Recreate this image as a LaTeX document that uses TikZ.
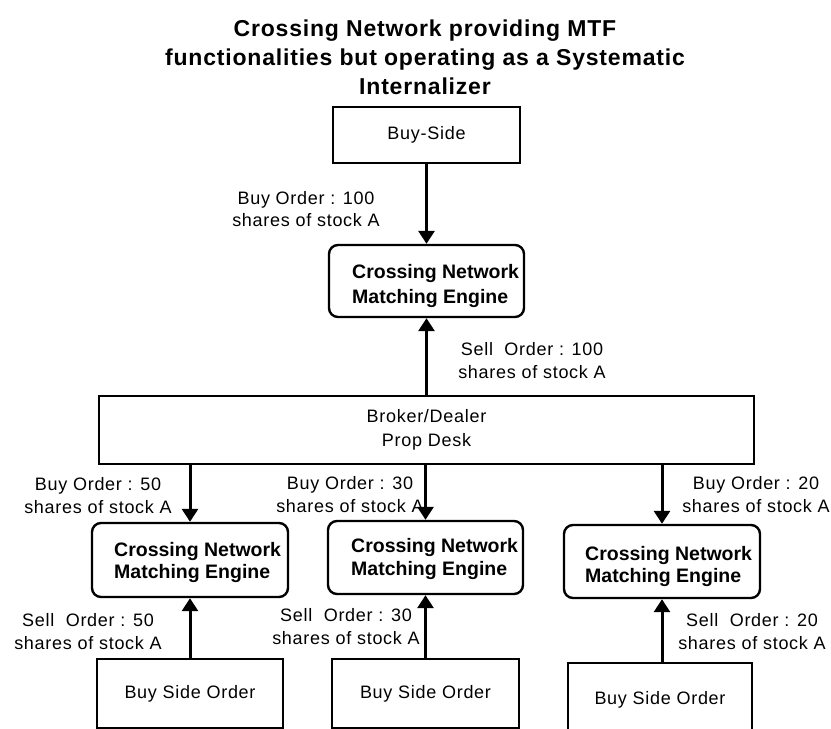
\documentclass[tikz,border=0pt]{standalone}
\usepackage{fontspec}
\setmainfont{Liberation Sans}
\newfontfamily\lblfont[LetterSpace=4.0]{Liberation Sans}
\newfontfamily\ttlfont[LetterSpace=3.5]{Liberation Sans}
\usetikzlibrary{arrows.meta}
\begin{document}
\begin{tikzpicture}[x=1pt,y=-1pt,
  box/.style={draw=black, line width=2.4pt, inner sep=0pt, align=center,
    font=\lblfont\fontsize{18}{23.4}\selectfont},
  cnbox/.style={draw=black, line width=2.4pt, rounded corners=9pt, inner sep=0pt},
  cntext/.style={anchor=north west, inner sep=0pt, align=left,
    font=\bfseries\fontsize{19.5}{22.8}\selectfont},
  lbl/.style={anchor=north, inner sep=0pt, align=center,
    font=\lblfont\fontsize{18}{22.8}\selectfont},
  arr/.style={line width=3pt, -{Triangle[width=16pt,length=13pt]}}]
\useasboundingbox (0,0) rectangle (831,729);
% title
\node[anchor=north, inner sep=0pt, align=center,
  font=\ttlfont\bfseries\fontsize{23}{29}\selectfont] (title) at (425,19.7)
  {Crossing Network providing MTF\\functionalities but operating as a Systematic\\Internalizer};
% boxes
\node[box, minimum width=187pt, minimum height=56pt] (buyside) at (426.5,135) {Buy-Side};
\node[cnbox, minimum width=195pt, minimum height=72pt] (cn0) at (426.5,281) {};
\node[cntext, font=\bfseries\fontsize{19.5}{25}\selectfont] (cn0t) at (352,264.1) {Crossing Network\\Matching Engine};
\node[box, minimum width=655pt, minimum height=68pt] (broker) at (426.5,430) {Broker/Dealer\\Prop Desk};
\node[cnbox, minimum width=196pt, minimum height=74pt] (cn1) at (190,560) {};
\node[cntext] (cn1t) at (114,541.8) {Crossing Network\\Matching Engine};
\node[cnbox, minimum width=195pt, minimum height=73pt] (cn2) at (425.5,557.5) {};
\node[cntext] (cn2t) at (351,538.5) {Crossing Network\\Matching Engine};
\node[cnbox, minimum width=196pt, minimum height=73pt] (cn3) at (662,561.5) {};
\node[cntext] (cn3t) at (585,545.8) {Crossing Network\\Matching Engine};
\node[box, minimum width=186pt, minimum height=69pt] (bs1) at (190,693.5) {Buy Side Order};
\node[box, minimum width=187pt, minimum height=69pt] (bs2) at (425.5,693.5) {Buy Side Order};
\node[box, minimum width=184pt, minimum height=74pt] (bs3) at (660,700) {Buy Side Order};
% arrows
\draw[arr] (buyside.south) -- (cn0.north);
\draw[arr] (broker.north -| cn0.south) -- (cn0.south);
\draw[arr] (broker.south -| cn1.north) -- (cn1.north);
\draw[arr] (broker.south -| cn2.north) -- (cn2.north);
\draw[arr] (broker.south -| cn3.north) -- (cn3.north);
\draw[arr] (bs1.north -| cn1.south) -- (cn1.south);
\draw[arr] (bs2.north -| cn2.south) -- (cn2.south);
\draw[arr] (bs3.north -| cn3.south) -- (cn3.south);
% labels
\node[lbl] (l0) at (306,190.9) {Buy Order : 100\\shares of stock A};
\node[lbl] (l0s) at (532,342) {Sell~ Order : 100\\shares of stock A};
\node[lbl] (lb1) at (98,477) {Buy Order : 50\\shares of stock A};
\node[lbl] (lb2) at (350,476) {Buy Order : 30\\shares of stock A};
\node[lbl] (lb3) at (756,476) {Buy Order : 20\\shares of stock A};
\node[lbl] (ls1) at (88,613) {Sell~ Order : 50\\shares of stock A};
\node[lbl] (ls2) at (346,608) {Sell~ Order : 30\\shares of stock A};
\node[lbl] (ls3) at (752,613) {Sell~ Order : 20\\shares of stock A};
\end{tikzpicture}
\end{document}
